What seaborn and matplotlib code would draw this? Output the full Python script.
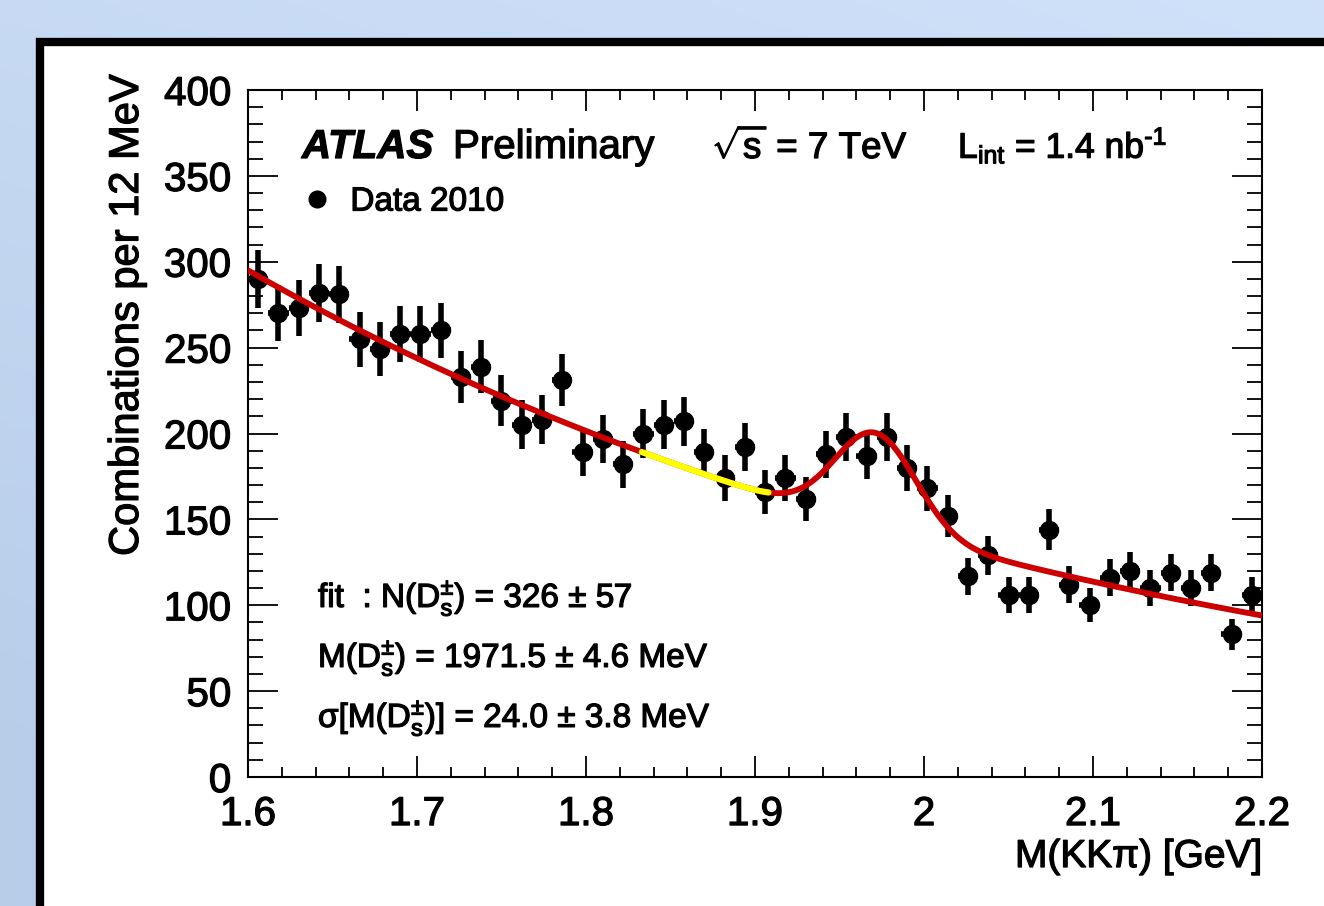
import numpy as np
import pandas as pd
import matplotlib
matplotlib.use("Agg")
import matplotlib.pyplot as plt
import matplotlib.patheffects as pe
import seaborn as sns
from matplotlib.patches import Rectangle
from matplotlib.lines import Line2D
from matplotlib.text import Text
from matplotlib.ticker import MultipleLocator, FixedLocator

# ---------------- data ----------------
bin_low = 1.600
bin_width = 0.012
counts = [290, 270, 273, 282, 281, 255, 249, 258, 258, 260,
          233, 239, 219, 205, 208, 231, 189, 197, 182, 200,
          205, 207, 189, 174, 192, 166, 174, 162, 188, 198,
          187, 198, 180, 168, 152, 117, 129, 106, 106, 144,
          112, 100, 116, 120, 110, 119, 110, 119, 83, 106]
errors = [17.0, 16.4, 16.5, 16.8, 16.8, 16.0, 15.8, 16.1, 16.1, 16.1,
          15.3, 15.5, 14.8, 14.3, 14.4, 15.2, 13.7, 14.0, 13.5, 14.1,
          14.3, 14.4, 13.7, 13.2, 13.9, 12.9, 13.2, 12.7, 13.7, 14.1,
          13.7, 14.1, 13.4, 13.0, 12.3, 10.8, 11.4, 10.3, 10.3, 12.0,
          10.6, 10.0, 10.8, 11.0, 10.5, 10.9, 10.5, 10.9, 9.1, 10.3]
# fit model parameters (exponential background + gaussian D_s peak)
bkg_norm = 295.0
bkg_slope = 1.906
sig_amp = 55.0
sig_mean = 1.9715
sig_sigma = 0.024
yellow_range = (1.833, 1.909)

xticks = [1.6, 1.7, 1.8, 1.9, 2.0, 2.1, 2.2]
xticklabels = ["1.6", "1.7", "1.8", "1.9", "2", "2.1", "2.2"]
yticks = [0, 50, 100, 150, 200, 250, 300, 350, 400]

centers = bin_low + bin_width * (np.arange(len(counts)) + 0.5)
df = pd.DataFrame({"m": centers, "n": counts, "err": errors})

xf = np.linspace(1.6, 2.2, 601)
fit = bkg_norm * np.exp(-bkg_slope * (xf - 1.6)) + \
    sig_amp * np.exp(-0.5 * ((xf - sig_mean) / sig_sigma) ** 2)
fit_df = pd.DataFrame({"m": xf, "f": fit})
ymask = (xf >= yellow_range[0]) & (xf <= yellow_range[1])
yel_df = fit_df[ymask]

# ---------------- style ----------------
sns.set_theme(style="ticks")
plt.rcParams["font.family"] = ["Liberation Sans", "DejaVu Sans"]
plt.rcParams["text.color"] = "black"
plt.rcParams["axes.labelcolor"] = "black"
plt.rcParams["xtick.color"] = "black"
plt.rcParams["ytick.color"] = "black"
plt.rcParams["mathtext.fontset"] = "custom"
plt.rcParams["mathtext.rm"] = "Liberation Sans"
plt.rcParams["mathtext.it"] = "Liberation Sans:italic"
plt.rcParams["mathtext.bf"] = "Liberation Sans:bold"
plt.rcParams["mathtext.sf"] = "Liberation Sans"

W, H = 1324, 906
fig = plt.figure(figsize=(W / 100, H / 100), dpi=100)

def P(x, y):
    return x / W, 1 - y / H

# background gradient
bg = fig.add_axes([0, 0, 1, 1], zorder=-10)
gx = np.linspace(0, 1, 200)
gy = np.linspace(0, 1, 200)
GX, GY = np.meshgrid(gx, gy)
t = np.clip(0.75 * GY + 0.35 * (1 - GX), 0, 1)
top = np.array([0.816, 0.882, 0.980])
bot = np.array([0.718, 0.804, 0.910])
img = top[None, None, :] * (1 - t[..., None]) + bot[None, None, :] * t[..., None]
bg.imshow(img, extent=[0, 1, 0, 1], aspect="auto", origin="upper")
bg.set_axis_off()
bg.add_patch(Rectangle((40 / W, -0.2), 2.0, (H - 42) / H + 0.2,
                       facecolor="white", edgecolor="black", linewidth=6,
                       transform=bg.transAxes))

ax = fig.add_axes([248 / W, (H - 777) / H, 1014 / W, 687 / H])
ax.set_facecolor("none")

ax.errorbar(df["m"], df["n"], yerr=df["err"], xerr=bin_width / 2,
            fmt="o", color="black", ms=13, elinewidth=4.0, capsize=0, zorder=3)
sns.lineplot(data=fit_df, x="m", y="f", ax=ax, color="#cc0000", lw=4.2,
             zorder=4, legend=False)
sns.lineplot(data=yel_df, x="m", y="f", ax=ax, color="#ffff00", lw=4.4,
             zorder=5, legend=False)

ax.set_xlim(1.6, 2.2)
ax.set_ylim(0, 400)
ax.set_xlabel("")
ax.set_ylabel("")
ax.xaxis.set_major_locator(FixedLocator(xticks))
ax.set_xticklabels(xticklabels)
ax.xaxis.set_minor_locator(MultipleLocator(0.02))
ax.yaxis.set_major_locator(FixedLocator(yticks))
ax.yaxis.set_minor_locator(MultipleLocator(10))
ax.tick_params(which="both", direction="in", top=True, right=True,
               color="black", width=1.3, labelsize=29, labelcolor="black")
ax.tick_params(axis="x", which="major", length=14.8, pad=13)
ax.tick_params(axis="x", which="minor", length=7.4)
ax.tick_params(axis="y", which="major", length=21.6, pad=12)
ax.tick_params(axis="y", which="minor", length=10.8)
for s in ax.spines.values():
    s.set_linewidth(1.5)
    s.set_color("black")

# axis titles
fig.text(*P(127, 75), "Combinations per 12 MeV", rotation=90, ha="center",
         va="top", fontsize=30)
fig.text(*P(1262, 857), "M(KKπ) [GeV]", ha="right", va="center", fontsize=28)

# labels
fig.text(*P(302, 158), "ATLAS", fontsize=29, weight="bold", style="italic",
         va="baseline")
fig.text(*P(453, 158), "Preliminary", fontsize=29, va="baseline")
fig.text(*P(712, 158), r"$\sqrt{\mathrm{s}}$ = 7 TeV", fontsize=26.5, va="baseline")
fig.text(*P(958, 158), r"L$_{\mathrm{int}}$ = 1.4 nb$^{\text{-1}}$",
         fontsize=25.5, va="baseline")

leg = ax.legend(handles=[Line2D([], [], marker="o", ls="none", color="black", ms=12)],
                labels=["Data 2010"], loc="center left",
                bbox_to_anchor=((302 - 248) / 1014, (777 - 202) / 687),
                frameon=False, fontsize=24, handlelength=0.9,
                handletextpad=0.55, borderpad=0, borderaxespad=0)

fig.text(*P(318, 607), r"fit  : N(D$_{\mathrm{s}}^{\pm}$) = 326 ± 57",
         fontsize=24, va="baseline")
fig.text(*P(318, 667), r"M(D$_{\mathrm{s}}^{\pm}$) = 1971.5 ± 4.6 MeV",
         fontsize=24, va="baseline")
fig.text(*P(318, 727), r"σ[M(D$_{\mathrm{s}}^{\pm}$)] = 24.0 ± 3.8 MeV",
         fontsize=24, va="baseline")

# heavier text rendering, like the reference
for txt in fig.findobj(Text):
    txt.set_path_effects([pe.withStroke(linewidth=0.9, foreground="black")])

fig.savefig("out.png", dpi=100)
